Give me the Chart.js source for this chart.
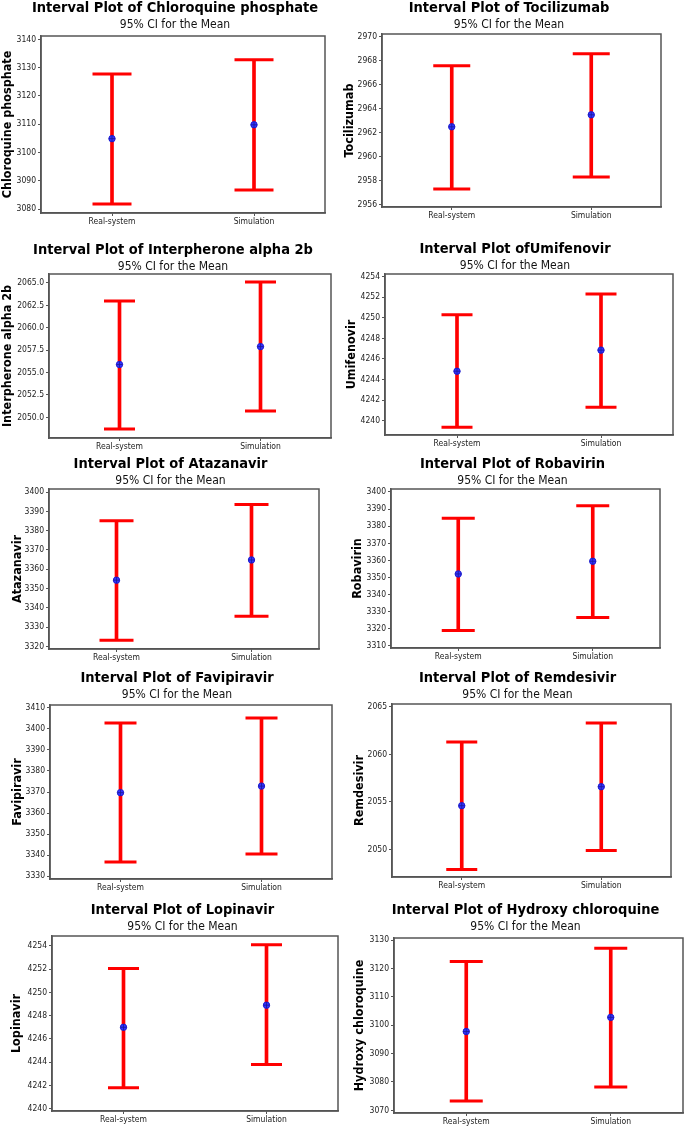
<!DOCTYPE html>
<html>
<head>
<meta charset="utf-8">
<script src="https://cdn.jsdelivr.net/npm/chart.js@4.4.1/dist/chart.umd.min.js"></script>
<style>
  html, body { margin: 0; padding: 0; background: #fff; }
  #page { position: relative; width: 685px; height: 1126px; overflow: hidden; }
  #page canvas { position: absolute; }
</style>
</head>
<body>
<div id="page"></div>
<script>
// Drugs, in reading order (left to right, top to bottom).
const drugs = ['Chloroquine phosphate', 'Tocilizumab', 'Interpherone alpha 2b', 'Umifenovir',
  'Atazanavir', 'Robavirin', 'Favipiravir', 'Remdesivir', 'Lopinavir', 'Hydroxy chloroquine'];
const titles = ['Interval Plot of Chloroquine phosphate', 'Interval Plot of Tocilizumab',
  'Interval Plot of Interpherone alpha 2b', 'Interval Plot ofUmifenovir', 'Interval Plot of Atazanavir',
  'Interval Plot of Robavirin', 'Interval Plot of Favipiravir', 'Interval Plot of Remdesivir',
  'Interval Plot of Lopinavir', 'Interval Plot of Hydroxy chloroquine'];
const groups = ['Real-system', 'Simulation'];

// 95% CI for the mean.
const realLow  = [3081.8, 2957.3, 2048.7, 4239.35, 3323.1, 3319.0, 3336.8, 2047.9, 4241.8, 3073.3];
const realMean = [3104.9, 2962.5, 2055.9, 4244.8, 3354.3, 3352.1, 3369.7, 2054.6, 4247.0, 3097.8];
const realHigh = [3127.8, 2967.6, 2063.0, 4250.3, 3385.1, 3384.6, 3402.7, 2061.3, 4252.05, 3122.5];
const simLow   = [3086.7, 2958.3, 2050.7, 4241.3, 3335.6, 3326.6, 3340.6, 2049.9, 4243.8, 3078.2];
const simMean  = [3109.8, 2963.5, 2057.9, 4246.85, 3364.8, 3359.5, 3372.8, 2056.6, 4248.9, 3102.8];
const simHigh  = [3132.8, 2968.6, 2065.1, 4252.3, 3393.6, 3392.0, 3405.1, 2063.3, 4254.1, 3127.2];

// y axis ranges and tick labels
const yMin = [3078.6, 2955.8, 2047.7, 4238.6, 3318.6, 3308.8, 3328.7, 2047.1, 4239.8, 3069.05];
const yMax = [3141.2, 2970.25, 2066.0, 4254.25, 3401.6, 3401.75, 3411.3, 2065.3, 4254.85, 3130.8];
const yTicks = [
  [3080, 3090, 3100, 3110, 3120, 3130, 3140],
  [2956, 2958, 2960, 2962, 2964, 2966, 2968, 2970],
  [2050.0, 2052.5, 2055.0, 2057.5, 2060.0, 2062.5, 2065.0],
  [4240, 4242, 4244, 4246, 4248, 4250, 4252, 4254],
  [3320, 3330, 3340, 3350, 3360, 3370, 3380, 3390, 3400],
  [3310, 3320, 3330, 3340, 3350, 3360, 3370, 3380, 3390, 3400],
  [3330, 3340, 3350, 3360, 3370, 3380, 3390, 3400, 3410],
  [2050, 2055, 2060, 2065],
  [4240, 4242, 4244, 4246, 4248, 4250, 4252, 4254],
  [3070, 3080, 3090, 3100, 3110, 3120, 3130]
];
const tickDecimals = [0, 0, 1, 0, 0, 0, 0, 0, 0, 0];

// Where each panel sits on the page: canvas left, title centre (x, y),
// plot box [l, t, r, b], y title centre x, half width of the caps.
const layout = [
  { left: 0,   titleX: 175,   titleY: 8,   box: [41, 36, 325, 213],    yTitleX: 8,   cap: 19.5 },
  { left: 340, titleX: 509,   titleY: 8,   box: [382, 34, 661, 207],   yTitleX: 350, cap: 18.5 },
  { left: 0,   titleX: 173,   titleY: 250, box: [49, 274, 331, 438],   yTitleX: 7,   cap: 15.5 },
  { left: 340, titleX: 515,   titleY: 249, box: [385, 274, 673, 435],  yTitleX: 352, cap: 15.5 },
  { left: 0,   titleX: 170.5, titleY: 464, box: [49, 489, 319, 649],   yTitleX: 18,  cap: 17 },
  { left: 340, titleX: 512.5, titleY: 464, box: [391, 489, 660, 648],  yTitleX: 358, cap: 16.5 },
  { left: 0,   titleX: 177,   titleY: 678, box: [50, 705, 332, 879],   yTitleX: 18,  cap: 16 },
  { left: 340, titleX: 517.5, titleY: 678, box: [392, 704, 671, 877],  yTitleX: 360, cap: 15.5 },
  { left: 0,   titleX: 182.5, titleY: 910, box: [52, 936, 338, 1111],  yTitleX: 17,  cap: 15.5 },
  { left: 340, titleX: 525.5, titleY: 910, box: [394, 938, 683, 1113], yTitleX: 360, cap: 16.5 }
];

const RED = 'rgb(255, 0, 0)';
const BLUE = 'rgb(50, 50, 255)';
const FRAME = '#555';
const FONT = "'DejaVu Sans Condensed', 'DejaVu Sans', sans-serif";

// Draws the grey box around the plot area.
const framePlugin = {
  id: 'frame',
  beforeDatasetsDraw(chart) {
    const { ctx, chartArea: a } = chart;
    ctx.save();
    ctx.strokeStyle = FRAME;
    ctx.lineWidth = 1.5;
    ctx.strokeRect(a.left, a.top, a.right - a.left, a.bottom - a.top);
    ctx.restore();
  }
};

const page = document.getElementById('page');

drugs.forEach((drug, i) => {
  const L = layout[i];
  const [bl, bt, br, bb] = L.box;
  const width = Math.round(2 * (L.titleX - L.left)); // title is centred on the canvas
  const top = Math.round(L.titleY - 8);
  const band = 15; // x axis band under the box
  const height = Math.round(bb - top + band);
  const rightGap = width - (br - L.left);

  const canvas = document.createElement('canvas');
  canvas.width = width;
  canvas.height = height;
  canvas.style.left = L.left + 'px';
  canvas.style.top = top + 'px';
  page.appendChild(canvas);

  const means = [realMean[i], simMean[i]];

  new Chart(canvas, {
    type: 'bar',
    data: {
      labels: groups,
      datasets: [
        {
          type: 'bar',
          data: [[realLow[i], realHigh[i]], [simLow[i], simHigh[i]]],
          backgroundColor: RED,
          barThickness: 3,
          order: 3
        },
        {
          type: 'line',
          data: [realLow[i], simLow[i]],
          showLine: false,
          pointStyle: 'line',
          pointRadius: L.cap,
          pointBorderWidth: 3,
          pointBorderColor: RED,
          order: 2
        },
        {
          type: 'line',
          data: [realHigh[i], simHigh[i]],
          showLine: false,
          pointStyle: 'line',
          pointRadius: L.cap,
          pointBorderWidth: 3,
          pointBorderColor: RED,
          order: 2
        },
        {
          type: 'line',
          data: means,
          showLine: false,
          pointStyle: 'circle',
          pointRadius: 3.2,
          pointBackgroundColor: BLUE,
          pointBorderColor: 'rgb(30, 30, 210)',
          pointBorderWidth: 1,
          order: 1
        },
        {
          // the cross inside the mean symbol
          type: 'line',
          data: means,
          showLine: false,
          pointStyle: 'cross',
          pointRadius: 3.2,
          pointBorderColor: 'rgb(25, 25, 150)',
          pointBorderWidth: 0.8,
          order: 0
        }
      ]
    },
    options: {
      responsive: false,
      maintainAspectRatio: false,
      animation: false,
      devicePixelRatio: 1,
      layout: {
        autoPadding: false,
        padding: 0
      },
      plugins: {
        legend: { display: false },
        tooltip: { enabled: false },
        title: {
          display: true,
          text: titles[i],
          color: '#000',
          font: { family: FONT, size: 14.5, weight: 'bold', lineHeight: 1.2 },
          padding: { top: 0, bottom: 0 }
        },
        subtitle: {
          display: true,
          text: '95% CI for the Mean',
          color: '#111',
          font: { family: FONT, size: 12, lineHeight: 1.2 },
          padding: { top: 0, bottom: Math.max(0, bt - top - 17.4 - 14.4) }
        }
      },
      scales: {
        x: {
          offset: true,
          afterFit: (s) => { s.height = band; },
          grid: { offset: false, drawOnChartArea: false, tickLength: 3, color: FRAME },
          border: { display: true, color: FRAME, width: 1.5 },
          ticks: { font: { family: FONT, size: 8.5 }, color: '#222', padding: 1, maxRotation: 0 }
        },
        y: {
          min: yMin[i],
          max: yMax[i],
          beginAtZero: false,
          afterBuildTicks: (s) => { s.ticks = yTicks[i].map((v) => ({ value: v })); },
          afterFit: (s) => { s.width = bl - L.left; },
          grid: { drawOnChartArea: false, tickLength: 3, color: FRAME },
          border: { display: true, color: FRAME, width: 1.5 },
          ticks: {
            autoSkip: false,
            padding: 2,
            color: '#222',
            font: { family: FONT, size: 8.5 },
            callback: (v) => Number(v).toFixed(tickDecimals[i])
          },
          title: {
            display: true,
            text: drug,
            color: '#000',
            font: { family: FONT, size: 12.5, weight: 'bold', lineHeight: 1.2 },
            padding: { top: Math.max(0, L.yTitleX - L.left - 7.5), bottom: 0 }
          }
        },
        // empty axis that only holds the space right of the box
        gap: {
          position: 'right',
          display: true,
          afterFit: (s) => { s.width = rightGap; },
          grid: { display: false },
          border: { display: false },
          ticks: { display: false }
        }
      }
    },
    plugins: [framePlugin]
  });
});
</script>
</body>
</html>
